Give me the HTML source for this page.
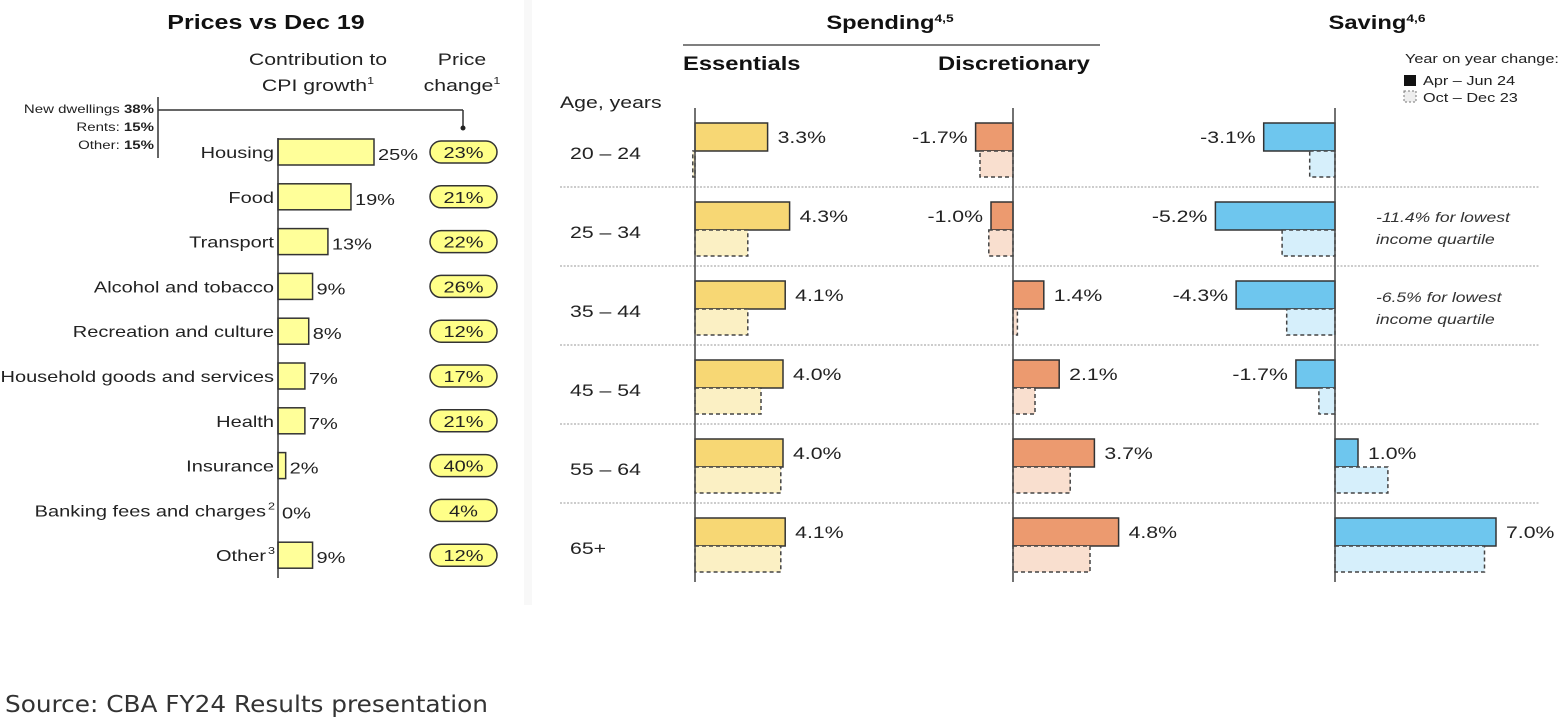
<!DOCTYPE html>
<html><head><meta charset="utf-8">
<style>
html,body{margin:0;padding:0;background:#fff;}
svg{display:block;font-family:"Liberation Sans",Arial,sans-serif;}
</style></head>
<body>
<svg id="chart" width="1562" height="728" viewBox="0 0 1562 728">
  <rect x="0" y="0" width="1562" height="728" fill="#fff"/>
  <rect x="524" y="0" width="8" height="605" fill="#f8f8f8"/>

  <!-- Left panel headers -->
  <text x="266" y="29" text-anchor="middle" font-size="20" font-weight="bold" fill="#111">Prices vs Dec 19</text>
  <text x="318" y="65" text-anchor="middle" font-size="17" fill="#222">Contribution to</text>
  <text x="318" y="91" text-anchor="middle" font-size="17" fill="#222">CPI growth<tspan font-size="10" dy="-7">1</tspan></text>
  <text x="462" y="65" text-anchor="middle" font-size="17" fill="#222">Price</text>
  <text x="462" y="91" text-anchor="middle" font-size="17" fill="#222">change<tspan font-size="10" dy="-7">1</tspan></text>

  <!-- Housing breakdown -->
  <g>
    <text x="154" y="113" text-anchor="end" font-size="12" fill="#222">New dwellings <tspan font-weight="bold">38%</tspan></text>
    <text x="154" y="131" text-anchor="end" font-size="12" fill="#222">Rents: <tspan font-weight="bold">15%</tspan></text>
    <text x="154" y="149" text-anchor="end" font-size="12" fill="#222">Other: <tspan font-weight="bold">15%</tspan></text>
    <line x1="158" y1="97" x2="158" y2="158" stroke="#333" stroke-width="1.5"/>
    <line x1="158" y1="110" x2="463" y2="110" stroke="#333" stroke-width="1.5"/>
    <line x1="463" y1="110" x2="463" y2="126" stroke="#333" stroke-width="1.5"/>
    <circle cx="463" cy="128" r="2.5" fill="#222"/>
  </g>
  <g id="left"></g>

  <!-- Right panel headers -->
  <text x="890" y="29" text-anchor="middle" font-size="19" font-weight="bold" fill="#111">Spending<tspan font-size="11" dy="-7">4,5</tspan></text>
  <line x1="683" y1="45" x2="1100" y2="45" stroke="#555" stroke-width="1.5"/>
  <text x="683" y="70" font-size="19" font-weight="bold" fill="#111">Essentials</text>
  <text x="938" y="70" font-size="19" font-weight="bold" fill="#111">Discretionary</text>
  <text x="1377" y="29" text-anchor="middle" font-size="19" font-weight="bold" fill="#111">Saving<tspan font-size="11" dy="-7">4,6</tspan></text>
  <text x="560" y="108" font-size="17" fill="#222">Age, years</text>

  <g>
    <text x="1405" y="63" font-size="13" fill="#222">Year on year change:</text>
    <rect x="1404" y="75" width="12" height="11" fill="#111"/>
    <text x="1423" y="85" font-size="13" fill="#222">Apr – Jun 24</text>
    <rect x="1404" y="91" width="12" height="11" fill="#eee" stroke="#777" stroke-dasharray="2,2"/>
    <text x="1423" y="102" font-size="13" fill="#222">Oct – Dec 23</text>
  </g>

  <g>
    <text x="1376" y="222" font-size="14" font-style="italic" fill="#333">-11.4% for lowest</text>
    <text x="1376" y="244" font-size="14" font-style="italic" fill="#333">income quartile</text>
    <text x="1376" y="302" font-size="14" font-style="italic" fill="#333">-6.5% for lowest</text>
    <text x="1376" y="324" font-size="14" font-style="italic" fill="#333">income quartile</text>
  </g>
  <g id="right"></g>

  <text id="source" x="5" y="712" font-size="23" fill="#333" font-family="'DejaVu Sans','Liberation Sans',sans-serif" textLength="483" lengthAdjust="spacingAndGlyphs">Source: CBA FY24 Results presentation</text>
</svg>
<script>
// Left chart data
const categories = ["Housing","Food","Transport","Alcohol and tobacco","Recreation and culture","Household goods and services","Health","Insurance","Banking fees and charges","Other"];
const catSup = ["","","","","","","","","2","3"];
const contribution = [25,19,13,9,8,7,7,2,0,9];
const priceChange = [23,21,22,26,12,17,21,40,4,12];

// Right chart data
const ageGroups = ["20 – 24","25 – 34","35 – 44","45 – 54","55 – 64","65+"];
const essentialsNow = [3.3,4.3,4.1,4.0,4.0,4.1];
const essentialsPrev = [-0.1,2.4,2.4,3.0,3.9,3.9];
const discretionaryNow = [-1.7,-1.0,1.4,2.1,3.7,4.8];
const discretionaryPrev = [-1.5,-1.1,0.2,1.0,2.6,3.5];
const savingNow = [-3.1,-5.2,-4.3,-1.7,1.0,7.0];
const savingPrev = [-1.1,-2.3,-2.1,-0.7,2.3,6.5];

const NS = "http://www.w3.org/2000/svg";
function mk(parent, tag, attrs, text){
  const e = document.createElementNS(NS, tag);
  for (const k in attrs) e.setAttribute(k, attrs[k]);
  if (text !== undefined) e.textContent = text;
  parent.appendChild(e);
  return e;
}

// ----- Left chart -----
const L = document.getElementById('left');
const lx0 = 278, lScale = 3.84, lRow0 = 152, lStep = 44.8, lBarH = 26;
const lx = v => lx0 + v * lScale;
const ly = i => lRow0 + i * lStep;
categories.forEach((c, i) => {
  const cy = ly(i);
  const lab = mk(L, 'text', {x: lx0 - 4 - (catSup[i] ? 8 : 0), y: cy + 6, 'text-anchor': 'end', 'font-size': 16, fill: '#222'}, c);
  
  
  if (catSup[i]) {
    const s = mk(L, 'text', {x: lx0 - 3, y: cy - 1, 'text-anchor': 'end', 'font-size': 10, fill: '#222'}, catSup[i]);
    
    
  }
  const w = lx(contribution[i]) - lx0;
  if (w > 0) {
    const r = mk(L, 'rect', {x: lx0, y: cy - lBarH/2, width: w, height: lBarH, fill: '#ffff99', stroke: '#333', 'stroke-width': 1.5});
    
    
  }
  const v = mk(L, 'text', {x: lx(contribution[i]) + 4, y: cy + 8, 'font-size': 16, fill: '#222'}, contribution[i] + '%');
  
  
  const p = mk(L, 'rect', {x: 430, y: cy - 11, width: 67, height: 22, rx: 11, ry: 11, fill: '#ffff88', stroke: '#333', 'stroke-width': 1.5});
  
  
  const pt = mk(L, 'text', {x: 463.5, y: cy + 6, 'text-anchor': 'middle', 'font-size': 16, fill: '#222'}, priceChange[i] + '%');
  
  
});
const la = mk(L, 'line', {x1: lx0, y1: 138, x2: lx0, y2: 578, stroke: '#333', 'stroke-width': 1.5});



// ----- Right chart -----
const R = document.getElementById('right');
const rRow0 = 123, rStep = 79, barH = 28, prevH = 26;
const rowTop = i => rRow0 + i * rStep;
ageGroups.forEach((g, i) => {
  const t = mk(R, 'text', {x: 570, y: rowTop(i) + 36, 'font-size': 17, fill: '#222'}, g);
  
  
  if (i > 0) {
    const d = mk(R, 'line', {x1: 560, y1: rowTop(i) - 15, x2: 1540, y2: rowTop(i) - 15, stroke: '#999', 'stroke-width': 1, 'stroke-dasharray': '2,1.5'});
    
    
  }
});
const panels = [
  {name: 'essentials', x0: 695, scale: 22, now: essentialsNow, prev: essentialsPrev, fill: '#f7d774', pfill: '#fbf0c4'},
  {name: 'discretionary', x0: 1013, scale: 22, now: discretionaryNow, prev: discretionaryPrev, fill: '#ec9a6f', pfill: '#f9dfcf'},
  {name: 'saving', x0: 1335, scale: 23, now: savingNow, prev: savingPrev, fill: '#6ec6ee', pfill: '#d6effb'}
];
panels.forEach(P => {
  const sx = v => P.x0 + v * P.scale;
  ageGroups.forEach((g, i) => {
    const top = rowTop(i);
    const a = sx(P.now[i]);
    const r = mk(R, 'rect', {x: Math.min(a, P.x0), y: top, width: Math.abs(a - P.x0), height: barH, fill: P.fill, stroke: '#333', 'stroke-width': 1.5});
    
    
    const b = sx(P.prev[i]);
    const pr = mk(R, 'rect', {x: Math.min(b, P.x0), y: top + barH, width: Math.max(Math.abs(b - P.x0), 1), height: prevH, fill: P.pfill, stroke: '#444', 'stroke-width': 1.5, 'stroke-dasharray': '4,3'});
    
    
    const neg = P.now[i] < 0;
    const lbl = (P.now[i] < 0 ? '-' : '') + Math.abs(P.now[i]).toFixed(1) + '%';
    const vt = mk(R, 'text', {x: neg ? a - 8 : a + 10, y: top + 20, 'text-anchor': neg ? 'end' : 'start', 'font-size': 17, fill: '#222'}, lbl);
    
    
  });
  const ax = mk(R, 'line', {x1: P.x0, y1: 108, x2: P.x0, y2: 582, stroke: '#444', 'stroke-width': 1.5});
  
  
});

// Reference text is horizontally stretched ~1.25x
document.querySelectorAll('#chart text').forEach(t => {
  if (t.id === 'source') return;
  const w = t.getComputedTextLength();
  if (w > 0) {
    t.setAttribute('textLength', (w * 1.25).toFixed(1));
    t.setAttribute('lengthAdjust', 'spacingAndGlyphs');
  }
});
</script>
</body></html>
